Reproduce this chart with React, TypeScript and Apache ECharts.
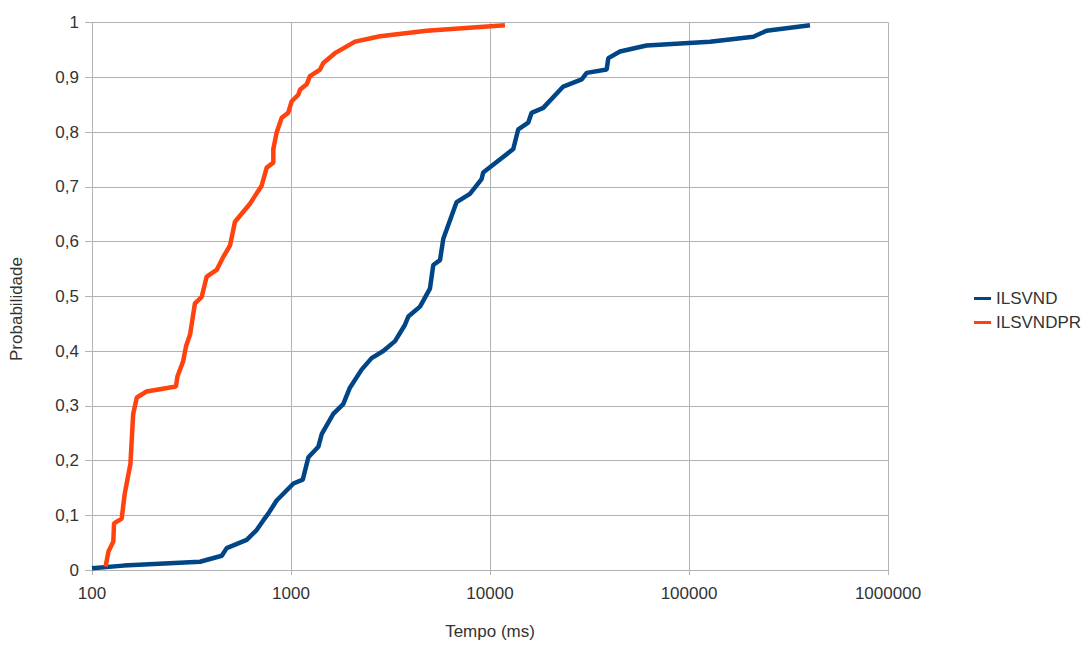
import React, { useEffect, useRef } from "react";
import * as echarts from "echarts";

const seriesNames = ["ILSVND", "ILSVNDPR"];

const ilsvndTime = [100, 144, 349, 449, 475, 599, 672, 727, 769, 847, 1029, 1146, 1223, 1372, 1426, 1631, 1830, 1977, 2264, 2541, 2909, 3332, 3740, 3888, 4449, 4991, 5188, 5608, 5826, 6796, 7925, 9074, 9244, 13090, 13870, 15560, 16180, 18520, 23340, 28900, 30620, 38560, 39320, 45000, 61200, 127600, 210600, 245300, 405600];
const ilsvndProb = [0.003, 0.008, 0.015, 0.026, 0.04, 0.055, 0.073, 0.091, 0.103, 0.127, 0.158, 0.165, 0.206, 0.225, 0.248, 0.285, 0.303, 0.333, 0.366, 0.387, 0.4, 0.418, 0.448, 0.463, 0.481, 0.514, 0.557, 0.566, 0.605, 0.672, 0.687, 0.714, 0.726, 0.769, 0.805, 0.817, 0.835, 0.844, 0.883, 0.896, 0.908, 0.914, 0.935, 0.947, 0.958, 0.965, 0.974, 0.985, 0.995];

const ilsvndprTime = [117, 121, 128, 129, 141, 146, 156, 161, 168, 188, 264, 269, 287, 297, 311, 329, 356, 377, 423, 457, 494, 523, 622, 712, 755, 815, 815, 847, 898, 968, 1007, 1088, 1109, 1199, 1245, 1399, 1453, 1663, 2098, 2801, 4805, 11890];
const ilsvndprProb = [0.006, 0.034, 0.052, 0.085, 0.094, 0.139, 0.194, 0.285, 0.315, 0.326, 0.335, 0.354, 0.381, 0.409, 0.43, 0.487, 0.499, 0.536, 0.548, 0.572, 0.593, 0.636, 0.669, 0.702, 0.735, 0.744, 0.769, 0.799, 0.826, 0.835, 0.856, 0.868, 0.877, 0.887, 0.902, 0.914, 0.926, 0.944, 0.965, 0.975, 0.985, 0.995];

const xAxisTitle = "Tempo (ms)";
const yAxisTitle = "Probabilidade";

const FONT = "'Liberation Sans', Arial, sans-serif";
const GRID_COLOR = "#b3b3b3";
const TEXT_COLOR = "#333333";

export default function App() {
  const ref = useRef<HTMLDivElement>(null);

  useEffect(() => {
    if (!ref.current) return;
    const chart = echarts.init(ref.current, undefined, { renderer: "svg" });
    const pairs = (xs: number[], ys: number[]) => xs.map((x, i) => [x, ys[i]]);
    chart.setOption({
      animation: false,
      backgroundColor: "#ffffff",
      textStyle: { fontFamily: FONT },
      grid: { left: 92, top: 22.5, width: 796, height: 551, containLabel: false },
      legend: {
        data: seriesNames,
        orient: "vertical",
        left: 969,
        top: 285,
        icon: "rect",
        itemWidth: 17,
        itemHeight: 3,
        itemGap: 7,
        textStyle: { fontSize: 17, color: TEXT_COLOR, fontFamily: FONT },
      },
      xAxis: {
        type: "log",
        logBase: 10,
        min: 100,
        max: 1000000,
        name: xAxisTitle,
        nameLocation: "middle",
        nameGap: 53,
        nameTextStyle: { fontSize: 17, color: TEXT_COLOR, fontFamily: FONT },
        axisLine: { show: true, lineStyle: { color: GRID_COLOR, width: 1 } },
        axisTick: { show: true, length: 5, lineStyle: { color: GRID_COLOR } },
        minorTick: { show: false },
        splitLine: { show: true, lineStyle: { color: GRID_COLOR, width: 1 } },
        axisLabel: {
          fontSize: 17,
          color: TEXT_COLOR,
          margin: 15,
          formatter: (v: number) => String(Math.round(v)),
        },
      },
      yAxis: {
        type: "value",
        min: 0,
        max: 1,
        interval: 0.1,
        axisLine: { show: true, lineStyle: { color: GRID_COLOR, width: 1 } },
        axisTick: { show: true, length: 7, lineStyle: { color: GRID_COLOR } },
        splitLine: { show: true, lineStyle: { color: GRID_COLOR, width: 1 } },
        axisLabel: {
          fontSize: 17,
          color: TEXT_COLOR,
          margin: 13,
          formatter: (v: number) => String(Math.round(v * 10) / 10).replace(".", ","),
        },
      },
      graphic: [
        {
          type: "text",
          x: 16,
          y: 309,
          rotation: Math.PI / 2,
          style: {
            text: yAxisTitle,
            fontSize: 17,
            fontFamily: FONT,
            fill: TEXT_COLOR,
            align: "center",
            verticalAlign: "middle",
          },
        },
      ],
      series: [
        {
          name: seriesNames[0],
          type: "line",
          data: pairs(ilsvndTime, ilsvndProb),
          showSymbol: false,
          symbol: "none",
          color: "#004586",
          lineStyle: { width: 4.5, color: "#004586" },
        },
        {
          name: seriesNames[1],
          type: "line",
          data: pairs(ilsvndprTime, ilsvndprProb),
          showSymbol: false,
          symbol: "none",
          color: "#ff420e",
          lineStyle: { width: 4.5, color: "#ff420e" },
        },
      ],
    });
    return () => chart.dispose();
  }, []);

  return (
    <div
      ref={ref}
      style={{ position: "fixed", left: 0, top: 0, width: 1081, height: 645 }}
    />
  );
}
